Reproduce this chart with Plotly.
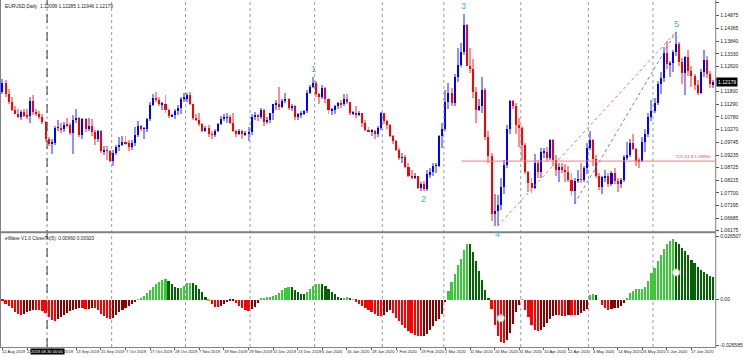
import plotly.graph_objects as go

# ---------------- data ----------------
opens = [1.1180,1.1214,1.1171,1.1139,1.1107,1.1090,1.1078,1.1096,1.1082,1.1081,
 1.1143,1.1097,1.1088,1.1077,1.1056,1.0987,1.0970,1.0973,1.1034,1.1034,
 1.1027,1.1046,1.1044,1.1012,1.1064,1.1074,1.1003,1.1069,1.1030,1.1042,
 1.1017,1.0990,1.1019,1.0939,1.0941,1.0940,1.0899,1.0931,1.0958,1.0966,
 1.0978,1.0972,1.0957,1.0971,1.1005,1.1041,1.1030,1.1030,1.1069,1.1124,
 1.1155,1.1147,1.1128,1.1128,1.1104,1.1080,1.1085,1.1100,1.1112,1.1152,
 1.1152,1.1167,1.1128,1.1075,1.1067,1.1050,1.1019,1.1031,1.1007,1.1006,
 1.1022,1.1051,1.1071,1.1074,1.1076,1.1055,1.1020,1.1012,1.1020,1.1008,
 1.1010,1.1017,1.1078,1.1082,1.1079,1.1104,1.1058,1.1064,1.1092,1.1128,
 1.1130,1.1119,1.1144,1.1149,1.1112,1.1121,1.1079,1.1089,1.1091,1.1100,
 1.1176,1.1199,1.1213,1.1170,1.1160,1.1195,1.1150,1.1104,1.1105,1.1120,
 1.1134,1.1129,1.1150,1.1137,1.1092,1.1095,1.1084,1.1093,1.1054,1.1026,
 1.1018,1.1021,1.1007,1.1033,1.1093,1.1060,1.1044,1.1002,1.0981,1.0943,
 1.0912,1.0915,1.0875,1.0840,1.0832,1.0838,1.0791,1.0806,1.0785,1.0846,
 1.0853,1.0880,1.0880,1.1000,1.1027,1.1138,1.1174,1.1136,1.1240,1.1288,
 1.1340,1.1450,1.1285,1.1270,1.1180,1.1106,1.1120,1.1185,1.0995,1.0921,
 1.0685,1.0697,1.0722,1.0794,1.0885,1.1027,1.1141,1.1120,1.1046,1.1031,
 1.0966,1.0856,1.0809,1.0792,1.0891,1.0855,1.0935,1.0937,1.0913,1.0986,
 1.0902,1.0864,1.0877,1.0864,1.0855,1.0823,1.0779,1.0819,1.0824,1.0823,
 1.0873,1.0953,1.0983,1.0907,1.0840,1.0794,1.0834,1.0839,1.0806,1.0850,
 1.0818,1.0806,1.0821,1.0915,1.0922,1.0971,1.0948,1.0900,1.0898,1.0977,
 1.1008,1.1078,1.1100,1.1135,1.1212,1.1237,1.1338,1.1290,1.1295,1.1342,
 1.1374,1.1298,1.1255,1.1320,1.1262,1.1244,1.1205,1.1176,1.1258,1.1307,
 1.1250,1.12099]

highs = [1.1230,1.1229,1.1190,1.1160,1.1120,1.1110,1.1105,1.1110,1.1110,1.1160,
 1.1165,1.1110,1.1102,1.1090,1.1063,1.0995,1.0990,1.1040,1.1067,1.1055,
 1.1058,1.1075,1.1055,1.1087,1.1110,1.1078,1.1075,1.1075,1.1075,1.1068,
 1.1025,1.1025,1.1025,1.0960,1.0960,1.0945,1.0943,1.0963,1.0998,1.0999,
 1.0999,1.0985,1.0985,1.1035,1.1063,1.1045,1.1035,1.1075,1.1140,1.1172,
 1.1179,1.1160,1.1140,1.1165,1.1110,1.1090,1.1108,1.1125,1.1160,1.1175,
 1.1175,1.1177,1.1130,1.1090,1.1093,1.1055,1.1040,1.1045,1.1022,1.1030,
 1.1055,1.1080,1.1090,1.1095,1.1085,1.1095,1.1025,1.1030,1.1025,1.1020,
 1.1035,1.1090,1.1098,1.1088,1.1112,1.1110,1.1077,1.1095,1.1130,1.1145,
 1.1199,1.1150,1.1175,1.1155,1.1130,1.1125,1.1095,1.1100,1.1105,1.1188,
 1.1205,1.1239,1.1225,1.1175,1.1205,1.1200,1.1155,1.1115,1.1125,1.1140,
 1.1145,1.1170,1.1170,1.1140,1.1100,1.1120,1.1100,1.1095,1.1065,1.1035,
 1.1030,1.1025,1.1040,1.1097,1.1095,1.1065,1.1050,1.1005,1.0985,1.0950,
 1.0930,1.0925,1.0890,1.0865,1.0850,1.0840,1.0815,1.0820,1.0863,1.0870,
 1.0890,1.0890,1.1005,1.1053,1.1185,1.1214,1.1195,1.1250,1.1355,1.1375,
 1.1496,1.1455,1.1355,1.1310,1.1200,1.1150,1.1240,1.1195,1.1020,1.0930,
 1.0765,1.0760,1.0830,1.0905,1.1045,1.1148,1.1145,1.1135,1.1075,1.1040,
 1.0972,1.0860,1.0830,1.0928,1.0905,1.0950,1.0952,1.0955,1.0990,1.0990,
 1.0925,1.0890,1.0892,1.0888,1.0880,1.0850,1.0830,1.0865,1.0890,1.0880,
 1.0974,1.1019,1.0990,1.0925,1.0850,1.0840,1.0865,1.0850,1.0860,1.0870,
 1.0830,1.0830,1.0925,1.0975,1.0990,1.1009,1.0950,1.0910,1.0995,1.1030,
 1.1095,1.1148,1.1155,1.1225,1.1258,1.1362,1.1384,1.1305,1.1350,1.1422,
 1.1380,1.1315,1.1325,1.1350,1.1285,1.1250,1.1228,1.1270,1.1350,1.1325,
 1.1265,1.12285]

lows = [1.1170,1.1160,1.1130,1.1100,1.1088,1.1075,1.1065,1.1077,1.1068,1.1052,
 1.1085,1.1080,1.1070,1.1050,1.0975,1.0960,1.0927,1.0963,1.1020,1.1012,
 1.1018,1.1035,1.1005,1.0926,1.1055,1.0995,1.0990,1.1015,1.1020,1.1000,
 1.0965,1.0975,1.0932,1.0925,1.0905,1.0895,1.0879,1.0925,1.0940,1.0960,
 1.0965,1.0940,1.0945,1.0960,1.0995,1.1020,1.0990,1.1015,1.1060,1.1120,
 1.1140,1.1120,1.1105,1.1095,1.1072,1.1078,1.1070,1.1085,1.1090,1.1140,
 1.1140,1.1125,1.1065,1.1060,1.1040,1.1015,1.1015,1.0995,1.0990,1.0995,
 1.1015,1.1045,1.1060,1.1055,1.1050,1.1015,1.0995,1.1005,1.0990,1.0999,
 1.0982,1.1005,1.1065,1.1060,1.1070,1.1040,1.1050,1.1055,1.1065,1.1105,
 1.1105,1.1115,1.1135,1.1105,1.1100,1.1065,1.1065,1.1075,1.1085,1.1095,
 1.1170,1.1195,1.1160,1.1128,1.1150,1.1135,1.1090,1.1085,1.1090,1.1110,
 1.1115,1.1120,1.1130,1.1085,1.1085,1.1075,1.1080,1.1035,1.1020,1.1015,
 1.1000,1.0990,1.0995,1.1025,1.1050,1.1030,1.0995,1.0970,1.0940,1.0905,
 1.0890,1.0870,1.0835,1.0828,1.0825,1.0785,1.0780,1.0778,1.0780,1.0830,
 1.0840,1.0850,1.0875,1.0950,1.1020,1.1110,1.1120,1.1120,1.1220,1.1280,
 1.1330,1.1285,1.1255,1.1155,1.1055,1.1100,1.1095,1.0985,1.0890,1.0655,
 1.0635,1.0636,1.0700,1.0765,1.0870,1.1010,1.1110,1.1010,1.0955,1.0905,
 1.0845,1.0775,1.0768,1.0785,1.0830,1.0830,1.0910,1.0900,1.0905,1.0880,
 1.0840,1.0815,1.0850,1.0815,1.0815,1.0757,1.0727,1.0810,1.0812,1.0815,
 1.0845,1.0945,1.0880,1.0830,1.0782,1.0767,1.0815,1.0795,1.0800,1.0805,
 1.0775,1.0790,1.0815,1.0905,1.0915,1.0945,1.0880,1.0870,1.0895,1.0935,
 1.0995,1.1060,1.1095,1.1125,1.1170,1.1217,1.1272,1.1240,1.1260,1.1325,
 1.1285,1.1210,1.1168,1.1245,1.1200,1.1185,1.1168,1.1170,1.1240,1.1235,
 1.1195,1.11946]

closes = [1.1214,1.1171,1.1139,1.1107,1.1090,1.1078,1.1096,1.1082,1.1081,1.1143,
 1.1097,1.1088,1.1077,1.1056,1.0987,1.0970,1.0973,1.1034,1.1034,1.1027,
 1.1046,1.1044,1.1012,1.1064,1.1074,1.1003,1.1069,1.1030,1.1042,1.1017,
 1.0990,1.1019,1.0939,1.0941,1.0940,1.0899,1.0931,1.0958,1.0966,1.0978,
 1.0972,1.0957,1.0971,1.1005,1.1041,1.1030,1.1030,1.1069,1.1124,1.1155,
 1.1147,1.1128,1.1128,1.1104,1.1080,1.1085,1.1100,1.1112,1.1152,1.1152,
 1.1167,1.1128,1.1075,1.1067,1.1050,1.1019,1.1031,1.1007,1.1006,1.1022,
 1.1051,1.1071,1.1074,1.1076,1.1055,1.1020,1.1012,1.1020,1.1008,1.1010,
 1.1017,1.1078,1.1082,1.1079,1.1104,1.1058,1.1064,1.1092,1.1128,1.1130,
 1.1119,1.1144,1.1149,1.1112,1.1121,1.1079,1.1089,1.1091,1.1100,1.1176,
 1.1199,1.1213,1.1170,1.1160,1.1195,1.1150,1.1104,1.1105,1.1120,1.1134,
 1.1129,1.1150,1.1137,1.1092,1.1095,1.1084,1.1093,1.1054,1.1026,1.1018,
 1.1021,1.1007,1.1033,1.1093,1.1060,1.1044,1.1002,1.0981,1.0943,1.0912,
 1.0915,1.0875,1.0840,1.0832,1.0838,1.0791,1.0806,1.0785,1.0846,1.0853,
 1.0880,1.0880,1.1000,1.1027,1.1138,1.1174,1.1136,1.1240,1.1288,1.1340,
 1.1450,1.1285,1.1270,1.1180,1.1106,1.1120,1.1185,1.0995,1.0921,1.0685,
 1.0697,1.0722,1.0794,1.0885,1.1027,1.1141,1.1120,1.1046,1.1031,1.0966,
 1.0856,1.0809,1.0792,1.0891,1.0855,1.0935,1.0937,1.0913,1.0986,1.0902,
 1.0864,1.0877,1.0864,1.0855,1.0823,1.0779,1.0819,1.0824,1.0823,1.0873,
 1.0953,1.0983,1.0907,1.0840,1.0794,1.0834,1.0839,1.0806,1.0850,1.0818,
 1.0806,1.0821,1.0915,1.0922,1.0971,1.0948,1.0900,1.0898,1.0977,1.1008,
 1.1078,1.1100,1.1135,1.1212,1.1237,1.1338,1.1290,1.1295,1.1342,1.1374,
 1.1298,1.1255,1.1320,1.1262,1.1244,1.1205,1.1176,1.1258,1.1307,1.1250,
 1.1210,1.12179]

ewave = [-0.0007,-0.0016,-0.0024,-0.0036,-0.0050,-0.0059,-0.0061,-0.0058,-0.0051,-0.0046,
 -0.0043,-0.0043,-0.0043,-0.0046,-0.0053,-0.0071,-0.0084,-0.0088,-0.0079,-0.0071,
 -0.0062,-0.0054,-0.0048,-0.0044,-0.0038,-0.0034,-0.0036,-0.0039,-0.0038,-0.0036,
 -0.0036,-0.0043,-0.0057,-0.0066,-0.0074,-0.0077,-0.0074,-0.0062,-0.0051,-0.0042,
 -0.0034,-0.0024,-0.0018,-0.0011,0.0001,0.0007,0.0013,0.0027,0.0039,0.0050,
 0.0062,0.0073,0.0081,0.0085,0.0075,0.0062,0.0053,0.0048,0.0048,0.0057,
 0.0066,0.0069,0.0067,0.0059,0.0043,0.0030,0.0009,-0.0002,-0.0018,-0.0028,
 -0.0028,-0.0024,-0.0018,-0.0011,-0.0005,-0.0004,-0.0012,-0.0026,-0.0035,-0.0044,
 -0.0047,-0.0039,-0.0031,-0.0012,0.0004,0.0008,0.0011,0.0011,0.0013,0.0018,
 0.0027,0.0038,0.0048,0.0051,0.0050,0.0039,0.0031,0.0023,0.0022,0.0032,
 0.0044,0.0055,0.0062,0.0065,0.0063,0.0054,0.0044,0.0032,0.0024,0.0012,
 0.0008,0.0008,0.0011,0.0004,-0.0001,-0.0008,-0.0018,-0.0027,-0.0036,-0.0044,
 -0.0051,-0.0058,-0.0065,-0.0066,-0.0062,-0.0050,-0.0044,-0.0055,-0.0073,-0.0086,
 -0.0102,-0.0116,-0.0127,-0.0136,-0.0143,-0.0147,-0.0148,-0.0147,-0.0139,-0.0125,
 -0.0109,-0.0088,-0.0078,-0.0057,-0.0009,0.0034,0.0071,0.0104,0.0139,0.0166,
 0.0203,0.0228,0.0225,0.0195,0.0155,0.0117,0.0078,0.0040,0.0004,-0.0040,
 -0.0105,-0.0147,-0.0174,-0.0178,-0.0164,-0.0137,-0.0097,-0.0050,-0.0020,-0.0001,
 -0.0043,-0.0071,-0.0104,-0.0124,-0.0128,-0.0125,-0.0110,-0.0094,-0.0077,-0.0066,
 -0.0061,-0.0063,-0.0066,-0.0067,-0.0063,-0.0063,-0.0063,-0.0061,-0.0054,-0.0046,
 -0.0040,0.0018,0.0022,0.0018,0.0000,-0.0023,-0.0036,-0.0043,-0.0039,-0.0034,
 -0.0032,-0.0027,-0.0015,0.0004,0.0026,0.0036,0.0042,0.0044,0.0044,0.0053,
 0.0077,0.0110,0.0129,0.0155,0.0183,0.0206,0.0224,0.0237,0.0245,0.0236,
 0.0225,0.0211,0.0199,0.0180,0.0160,0.0147,0.0133,0.0120,0.0113,0.0105,
 0.0097,0.0092]

date_labels = ["12 Aug 2019","22 Aug 2019","3 Sep 2019","13 Sep 2019","25 Sep 2019",
 "7 Oct 2019","17 Oct 2019","28 Oct 2019","7 Nov 2019","19 Nov 2019","29 Nov 2019",
 "11 Dec 2019","23 Dec 2019","6 Jan 2020","16 Jan 2020","28 Jan 2020","7 Feb 2020",
 "19 Feb 2020","2 Mar 2020","11 Mar 2020","20 Mar 2020","31 Mar 2020","10 Apr 2020",
 "22 Apr 2020","4 May 2020","14 May 2020","26 May 2020","5 Jun 2020","17 Jun 2020"]
date_label_bars = [0,8,16,24,32,40,48,56,64,72,80,88,96,104,112,120,128,136,144,152,
 160,168,176,184,192,200,208,216,224]
month_start_bars = [15,36,60,81,102,124,144,169,191,212]

price_ticks = [1.15385,1.14875,1.14365,1.13840,1.13330,1.12820,1.12310,1.11800,1.11290,
 1.10780,1.10270,1.09745,1.09235,1.08725,1.08215,1.07700,1.07195,1.06685,1.06175]
hidden_price_tick = 1.12310   # covered by the current-price box in the reference
ewave_tick_vals = [0.0255, 0.0, -0.01858]
ewave_tick_text = ["0.026507", "0.00", "-0.026585"]

wave_labels = ["1", "2", "3", "4", "5"]
wave_bars = [101, 137, 150, 161, 219]
wave_at_high = [True, False, True, False, True]

fib_level = 1.0899
fib_start_bar = 149.3
fib_text = "T21 61.8 1.08990"
wave_line_red = [(161, 1.0636), (219, 1.1422)]
wave_line_blue = [(186, 1.0727), (219, 1.1422)]
ewave_marks_x = [162, 219]
ewave_marks_y = [-0.0077, 0.0109]

# ---------------- geometry helpers ----------------
W, H = 743, 358
PLOT_RIGHT = 722
def pxx(p): return p / W
def pxy(p): return 1 - p / H

XR = [-0.805, 231.72]
FONT = "Liberation Sans"

n = len(closes)
idx = list(range(n))
up = [c >= o for o, c in zip(opens, closes)]
wick_col = ["#8f8fff" if u else "#ff8f8f" for u in up]
body_col = ["#0000ff" if u else "#ff0000" for u in up]
body_base = [min(o, c) for o, c in zip(opens, closes)]
body_len = [max(abs(c - o), 0.00025) for o, c in zip(opens, closes)]

hist_col = []
for i, v in enumerate(ewave):
    prev = ewave[i - 1] if i > 0 else v
    if abs(v) <= 0.0002:
        hist_col.append("#ff9900")
    elif v > 0:
        hist_col.append("#33cc33" if v >= prev else "#006400")
    else:
        hist_col.append("#ff0000" if v <= prev else "#8b0000")

fig = go.Figure()
fig.add_trace(go.Bar(x=idx, base=lows, y=[h - l for h, l in zip(highs, lows)],
                     width=0.32, marker=dict(color=wick_col, line_width=0),
                     xaxis="x", yaxis="y", hoverinfo="skip"))
fig.add_trace(go.Bar(x=idx, base=body_base, y=body_len, width=0.66,
                     marker=dict(color=body_col, line_width=0),
                     xaxis="x", yaxis="y", hoverinfo="skip"))
fig.add_trace(go.Bar(x=idx, y=ewave, width=0.7,
                     marker=dict(color=hist_col, line_width=0),
                     xaxis="x2", yaxis="y2", hoverinfo="skip"))
fig.add_trace(go.Scatter(x=ewave_marks_x, y=ewave_marks_y, mode="markers",
                         marker=dict(size=7, color="white", line=dict(color="#c8c8c8", width=1)),
                         xaxis="x2", yaxis="y2", hoverinfo="skip"))
for pts, col in [(wave_line_red, "#ff7070"), (wave_line_blue, "#7070ff")]:
    fig.add_trace(go.Scatter(x=[p[0] for p in pts], y=[p[1] for p in pts], mode="lines",
                             line=dict(color=col, width=1, dash="dot"),
                             xaxis="x", yaxis="y", hoverinfo="skip"))

shapes = []
for b in month_start_bars:
    shapes.append(dict(type="line", xref="x", yref="paper", x0=b - 0.5, x1=b - 0.5,
                       y0=pxy(349), y1=1, line=dict(color="#9a9a9a", width=1, dash="dot")))
shapes.append(dict(type="line", xref="x", yref="paper", x0=month_start_bars[0] - 0.5,
                   x1=month_start_bars[0] - 0.5, y0=pxy(349), y1=1,
                   line=dict(color="#404040", width=1, dash="dash")))
shapes.append(dict(type="line", xref="x", yref="y", x0=fib_start_bar, x1=XR[1],
                   y0=fib_level, y1=fib_level, line=dict(color="#ff7a7a", width=1)))
gray = "#808080"
shapes += [
    dict(type="line", xref="paper", yref="paper", x0=pxx(PLOT_RIGHT + 0.5), x1=pxx(PLOT_RIGHT + 0.5),
         y0=pxy(350), y1=1, line=dict(color=gray, width=1)),
    dict(type="line", xref="paper", yref="paper", x0=0, x1=pxx(PLOT_RIGHT + 0.5),
         y0=pxy(233.5), y1=pxy(233.5), line=dict(color=gray, width=2)),
    dict(type="line", xref="paper", yref="paper", x0=0, x1=pxx(PLOT_RIGHT + 0.5),
         y0=pxy(349.5), y1=pxy(349.5), line=dict(color=gray, width=1)),
    dict(type="line", xref="paper", yref="paper", x0=pxx(0.5), x1=pxx(0.5),
         y0=pxy(350), y1=1, line=dict(color=gray, width=1)),
]

ann = []
for lab, b in zip(date_labels, date_label_bars):
    ann.append(dict(x=b, xref="x2", y=pxy(353.5), yref="paper", text=lab, showarrow=False,
                    xanchor="left", yanchor="middle", xshift=-2,
                    font=dict(size=4.1, color="#222222", family=FONT)))
ann.append(dict(x=month_start_bars[0] - 0.5, xref="x2", y=pxy(353.5), yref="paper",
                text="2019.08.30 00:00", showarrow=False, xanchor="center", yanchor="middle",
                bgcolor="#000000", borderpad=0, font=dict(size=4.1, color="white", family=FONT)))
for lab, b, hi in zip(wave_labels, wave_bars, wave_at_high):
    ann.append(dict(x=b, xref="x", y=highs[b] if hi else lows[b], yref="y", text=lab,
                    showarrow=False, yanchor="bottom" if hi else "top",
                    yshift=1 if hi else -1,
                    font=dict(size=9, color="#38b4e8", family=FONT)))
ann.append(dict(x=XR[1], xref="x", y=fib_level, yref="y", text=fib_text, showarrow=False,
                xanchor="right", yanchor="bottom", xshift=-2, yshift=0,
                font=dict(size=4.4, color="#ff4040", family=FONT)))
ann.append(dict(x=pxx(PLOT_RIGHT + 1), xref="paper", y=closes[-1], yref="y",
                text=f"{closes[-1]:.5f}", showarrow=False, xanchor="left", yanchor="middle",
                bgcolor="#000000", borderpad=1, font=dict(size=5, color="white", family=FONT)))
ann.append(dict(x=pxx(3), xref="paper", y=pxy(2), yref="paper",
                text=f"EURUSD,Daily  {opens[-1]:.5f} {highs[-1]:.5f} {lows[-1]:.5f} {closes[-1]:.5f}",
                showarrow=False, xanchor="left", yanchor="top",
                font=dict(size=4.8, color="#222222", family=FONT)))
ann.append(dict(x=pxx(3), xref="paper", y=pxy(235.5), yref="paper",
                text=f"eWave V1.0 CloseTo(5): 0.00960 {ewave[-1]:.5f}",
                showarrow=False, xanchor="left", yanchor="top",
                font=dict(size=4.8, color="#222222", family=FONT)))

axis_common = dict(showgrid=False, zeroline=False, showline=False, fixedrange=True)
fig.update_layout(
    width=W, height=H, margin=dict(l=0, r=0, t=0, b=0),
    paper_bgcolor="white", plot_bgcolor="white", showlegend=False,
    barmode="overlay", bargap=0,
    xaxis=dict(domain=[0, pxx(PLOT_RIGHT)], range=XR, anchor="y",
               showticklabels=False, ticks="", **axis_common),
    xaxis2=dict(domain=[0, pxx(PLOT_RIGHT)], range=XR, anchor="y2",
                tickvals=date_label_bars, ticks="outside", ticklen=2, tickcolor="#555",
                showticklabels=False, **axis_common),
    yaxis=dict(domain=[pxy(233), 1], range=[1.06134, 1.15506], side="right", anchor="x",
               tickvals=price_ticks,
               ticktext=["" if p == hidden_price_tick else f"{p:.5f}" for p in price_ticks],
               ticks="outside", ticklen=3, tickcolor="#555",
               tickfont=dict(size=5, color="#222222", family=FONT), **axis_common),
    yaxis2=dict(domain=[pxy(349), pxy(234)], range=[-0.01939, 0.02707], side="right", anchor="x2",
                tickvals=ewave_tick_vals, ticktext=ewave_tick_text,
                ticks="outside", ticklen=3, tickcolor="#555",
                tickfont=dict(size=5, color="#222222", family=FONT), **axis_common),
    shapes=shapes, annotations=ann,
)

fig.write_html("out.html")
